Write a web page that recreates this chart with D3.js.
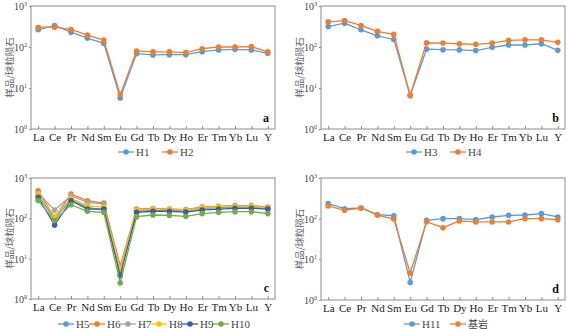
<!DOCTYPE html>
<html><head><meta charset="utf-8">
<script src="https://cdn.jsdelivr.net/npm/d3@7"></script>
<style>body{margin:0;background:#fff}svg{display:block}</style>
</head><body>
<script>
const categories = ["La","Ce","Pr","Nd","Sm","Eu","Gd","Tb","Dy","Ho","Er","Tm","Yb","Lu","Y"];
const yTicks = [1, 10, 100, 1000];

const H1 = [263,335,230,165,123,5.7,69,64,65,65,77,85,88,85,70];
const H2 = [304,304,268,195,148,6.9,80,76,76,73,91,100,100,102,76];
const H3 = [316,380,263,188,153,6.5,89,86,85,82,98,112,112,120,83];
const H4 = [410,441,335,240,203,6.7,127,125,120,116,125,145,150,150,130];
const H5 = [378,95,300,185,165,5.0,150,160,160,152,175,185,190,190,178];
const H6 = [485,105,400,274,240,6.7,170,176,170,164,191,198,206,206,191];
const H7 = [420,160,365,250,226,6.0,165,172,168,162,188,196,202,202,186];
const H8 = [400,112,313,205,190,5.5,160,168,165,158,182,192,198,198,182];
const H9 = [330,68,274,170,170,3.8,141,150,150,143,160,170,177,177,170];
const H10 = [275,88,218,149,141,2.5,110,121,119,112,131,141,146,146,131];
const H11 = [234,176,183,125,118,2.7,91,100,100,95,110,121,123,133,110];
const bedrock = [205,160,183,123,98,4.6,84,60,88,83,83,83,100,100,94];

const panels = [
  {x0:31, x1:275, y0:6, y1:129, letter:"a", series:[["H1",H1,"#5B9BD5"],["H2",H2,"#ED7D31"]], legY:152, legX:118, legGap:44},
  {x0:321, x1:565, y0:6, y1:129, letter:"b", series:[["H3",H3,"#5B9BD5"],["H4",H4,"#ED7D31"]], legY:152, legX:406, legGap:44},
  {x0:31, x1:275, y0:178, y1:299, letter:"c", series:[["H5",H5,"#5B9BD5"],["H6",H6,"#ED7D31"],["H7",H7,"#A5A5A5"],["H8",H8,"#FFC000"],["H9",H9,"#3C5BA8"],["H10",H10,"#70AD47"]], legY:324, legX:58, legGap:31},
  {x0:321, x1:565, y0:178, y1:300, letter:"d", series:[["H11",H11,"#5B9BD5"],["基岩",bedrock,"#ED7D31"]], legY:324, legX:404, legGap:46}
];

const svg = d3.select("body").append("svg").attr("width",567).attr("height",329);
const axisColor = "#8c8c8c";
const serif = "'Liberation Serif','DejaVu Serif',serif";

panels.forEach(p => {
  const g = svg.append("g");
  const x = d3.scalePoint().domain(categories).range([p.x0, p.x1]).padding(0.44);
  const y = d3.scaleLog().domain([1,1000]).range([p.y1, p.y0]);

  g.append("rect").attr("x",p.x0).attr("y",p.y0).attr("width",p.x1-p.x0).attr("height",p.y1-p.y0)
    .attr("fill","none").attr("stroke",axisColor).attr("stroke-width",1);

  const xa = g.append("g").attr("transform",`translate(0,${p.y1})`)
    .call(d3.axisBottom(x).tickSize(-3).tickPadding(4));
  xa.select(".domain").remove();
  xa.selectAll("line").attr("stroke",axisColor);
  xa.selectAll("text").attr("font-family",serif).attr("font-size",11).attr("fill","#222");

  const ya = g.append("g").attr("transform",`translate(${p.x0},0)`)
    .call(d3.axisLeft(y).tickValues(yTicks).tickSize(2).tickFormat(() => ""));
  ya.select(".domain").remove();
  ya.selectAll("line").attr("stroke",axisColor);
  yTicks.forEach(v => {
    const t = g.append("text").attr("x",p.x0-4).attr("y",y(v)+4).attr("text-anchor","end")
      .attr("font-family",serif).attr("font-size",10).attr("fill","#444");
    t.append("tspan").text("10");
    t.append("tspan").attr("dy",-4).attr("font-size",6).text(Math.round(Math.log10(v)));
  });

  const cy = (p.y0+p.y1)/2;
  g.append("text").attr("transform",`translate(${p.x0-18},${cy}) rotate(-90)`)
    .attr("text-anchor","middle").attr("font-family","'Noto Sans CJK SC',sans-serif")
    .attr("font-size",9.5).attr("fill","#666").text("样品/球粒陨石");

  g.append("text").attr("x",p.x1-6).attr("y",p.y1-7).attr("text-anchor","end")
    .attr("font-family",serif).attr("font-weight","bold").attr("font-size",12).attr("fill","#111").text(p.letter);

  const line = d3.line().x((d,i)=>x(categories[i])).y(d=>y(d));
  p.series.forEach(([name, vals, col]) => {
    g.append("path").datum(vals).attr("d",line).attr("fill","none").attr("stroke",col).attr("stroke-width",1.3);
    g.selectAll(null).data(vals).enter().append("circle")
      .attr("cx",(d,i)=>x(categories[i])).attr("cy",d=>y(d)).attr("r",2.8).attr("fill",col);
  });

  let lx = p.legX;
  p.series.forEach(([name, vals, col]) => {
    const lg = g.append("g");
    lg.append("line").attr("x1",lx).attr("x2",lx+16).attr("y1",p.legY).attr("y2",p.legY).attr("stroke",col).attr("stroke-width",1.3);
    lg.append("circle").attr("cx",lx+8).attr("cy",p.legY).attr("r",2.8).attr("fill",col);
    const isCJK = /[^\x00-\x7F]/.test(name);
    lg.append("text").attr("x",lx+18).attr("y",p.legY+(isCJK?3.5:4))
      .attr("font-family", isCJK ? "'Noto Sans CJK SC',sans-serif" : serif)
      .attr("font-size",isCJK?10:11).attr("fill","#444").text(name);
    lx += p.legGap;
  });
});
</script>
</body></html>
